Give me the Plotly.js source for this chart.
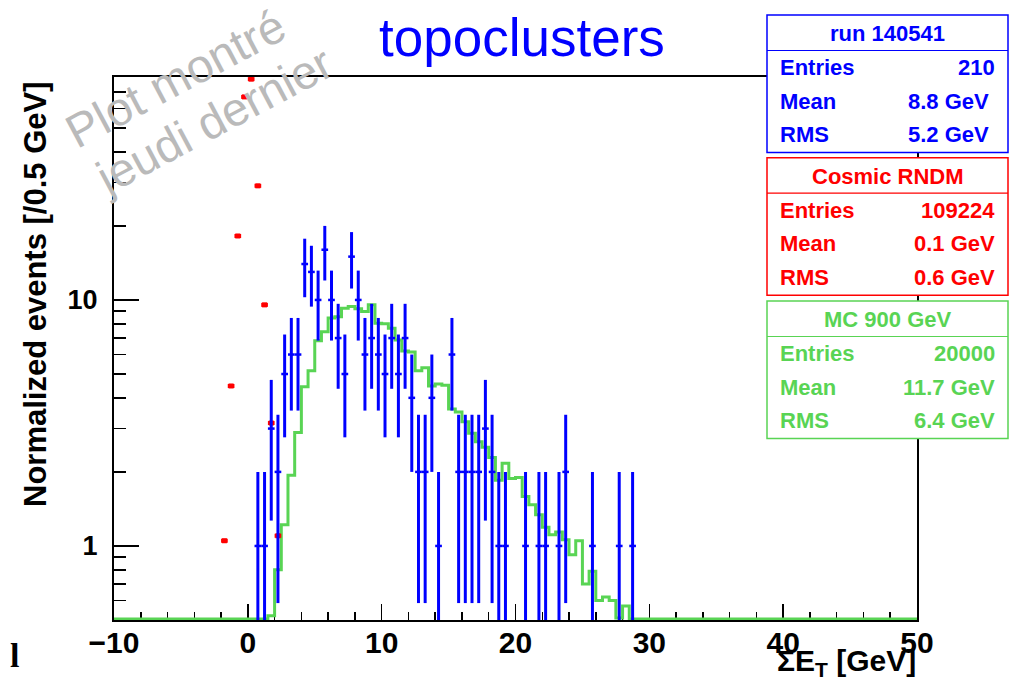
<!DOCTYPE html>
<html>
<head>
<meta charset="utf-8">
<script src="https://cdn.plot.ly/plotly-3.0.1.min.js"></script>
<style>html,body{margin:0;padding:0;background:#fff;}#chart{width:1012px;height:682px;}</style>
</head>
<body>
<div id="chart"></div>
<script>
// ---------------- data ----------------
// Data: run 140541 (counts per 0.5 GeV bin, bin centres in GeV)
const dataBinCenters = [0.75,1.25,1.75,2.25,2.75,3.25,3.75,4.25,4.75,5.25,5.75,6.25,6.75,7.25,7.75,8.25,8.75,9.25,9.75,10.25,10.75,11.25,11.75,12.25,12.75,13.25,13.75,14.25,15.25,15.75,16.25,16.75,17.25,17.75,18.25,18.75,19.25,20.75,21.75,22.25,23.25,23.75,25.75,27.75,28.75];
const dataCounts     = [1,1,3,2,5,6,6,14,13,10,16,10,7,5,15,10,6,7,6,5,7,5,7,4,2,2,4,1,6,2,2,2,2,3,2,1,1,1,1,1,1,2,1,1,1];

// Cosmic RNDM (normalized)
const cosmicBinCenters = [-1.75,-1.25,-0.75,-0.25,0.25,0.75,1.25,1.75,2.25];
const cosmicValues     = [1.05,4.47,18.2,66.9,79,29.1,9.55,3.16,1.1];

// MC 900 GeV (normalized), bins of 0.5 GeV starting at lower edge mcFirstEdge
const mcFirstEdge = 1.5;
const mcValues = [0.52,0.80,1.22,1.94,2.89,4.44,5.16,6.83,7.43,8.45,
                  8.55,9.25,9.4,9.2,8.97,9.55,8.05,8.0,7.67,6.87,
                  6.2,6.15,5.16,5.3,4.47,4.55,4.5,3.6,3.5,3.2,
                  2.87,2.65,2.52,2.29,1.85,2.17,1.88,1.9,1.59,1.47,
                  1.34,1.19,1.11,1.14,1.06,0.92,1.05,0.70,0.79,0.60,
                  0.62,0.60,0.51,0.57];
const binWidth = 0.5;
const histMin = -10, histMax = 50;

// Tick labels
const xTickVals = [-10,0,10,20,30,40,50];
const yTickVals = [1,10];
const yTickText = ['1','10'];
const yMinorTickVals = [0.6,0.7,0.8,0.9,2,3,4,5,6,7,8,9,20,30,40,50,60,70,80];

// Stat boxes
const statTitles = ['run 140541','Cosmic RNDM','MC 900 GeV'];
const statLabels = ['Entries','Mean','RMS'];
const statValuesRun = ['210','8.8 GeV','5.2 GeV'];
const statValuesCosmic = ['109224','0.1 GeV','0.6 GeV'];
const statValuesMC = ['20000','11.7 GeV','6.4 GeV'];

// ---------------- styling ----------------
const BLUE = '#0000ff', RED = '#ff0000', GREEN = '#59d454';
const FONT = 'Liberation Sans, Arial, sans-serif';
const PL = 114, PR = 917, PT = 77, PB = 620; // plot area in px
const W = 1012, H = 682;
const fx = x => (x - PL) / (PR - PL);
const fy = y => (PB - y) / (PB - PT);

// MC step histogram over full range
const nBins = Math.round((histMax - histMin) / binWidth);
const floorVal = 0.505;
const mcX = [], mcY = [];
for (let k = 0; k <= nBins; k++) {
  const lo = histMin + k * binWidth;
  const idx = Math.round((lo - mcFirstEdge) / binWidth);
  let v = (idx >= 0 && idx < mcValues.length) ? mcValues[idx] : 0;
  if (k === nBins) v = mcY[mcY.length - 1];
  mcX.push(lo);
  mcY.push(v > floorVal ? v : floorVal);
}

const traces = [
  {
    x: mcX, y: mcY, type: 'scatter', mode: 'lines',
    line: {shape: 'hv', color: GREEN, width: 3},
    hoverinfo: 'skip'
  },
  {
    x: cosmicBinCenters, y: cosmicValues, type: 'scatter', mode: 'markers',
    marker: {symbol: 'square', size: 5, color: RED},
    error_x: {type: 'constant', value: binWidth / 2, thickness: 4, width: 0, color: RED}
  },
  {
    x: dataBinCenters, y: dataCounts, type: 'scatter', mode: 'markers',
    marker: {size: 2, color: BLUE},
    error_x: {type: 'constant', value: binWidth / 2, thickness: 2.5, width: 0, color: BLUE},
    error_y: {type: 'data', array: dataCounts.map(Math.sqrt), thickness: 3, width: 0, color: BLUE}
  }
];

// Stat boxes (shapes + annotations)
const boxTops = [15, 157.7, 301];
const boxColors = [BLUE, RED, GREEN];
const boxValues = [statValuesRun, statValuesCosmic, statValuesMC];
const boxLeft = 767, boxRight = 1008;
const shapes = [], annotations = [];
boxTops.forEach((top, i) => {
  const c = boxColors[i];
  shapes.push({type: 'rect', xref: 'paper', yref: 'paper', layer: 'above',
    x0: fx(boxLeft), x1: fx(boxRight), y0: fy(top), y1: fy(top + 137.5),
    line: {color: c, width: 1.5}, fillcolor: '#ffffff'});
  shapes.push({type: 'line', xref: 'paper', yref: 'paper', layer: 'above',
    x0: fx(boxLeft), x1: fx(boxRight), y0: fy(top + 35.5), y1: fy(top + 35.5),
    line: {color: c, width: 1.2}});
  annotations.push({xref: 'paper', yref: 'paper', x: fx((boxLeft + boxRight) / 2), y: fy(top + 18.5),
    xanchor: 'center', yanchor: 'middle', showarrow: false, text: statTitles[i],
    font: {family: FONT, size: 22, color: c, weight: 'bold'}});
  statLabels.forEach((lab, j) => {
    const yy = top + 52.5 + j * 33.7;
    annotations.push({xref: 'paper', yref: 'paper', x: fx(778), y: fy(yy),
      xanchor: 'left', yanchor: 'middle', showarrow: false, text: lab,
      font: {family: FONT, size: 22, color: c, weight: 'bold'}});
    annotations.push({xref: 'paper', yref: 'paper', x: fx(i === 0 && j > 0 ? 991 : 997), y: fy(yy),
      xanchor: 'right', yanchor: 'middle', showarrow: false, text: boxValues[i][j],
      font: {family: FONT, size: 22, color: c, weight: 'bold'}});
  });
});

// Axis titles as annotations
annotations.push({xref: 'paper', yref: 'paper', x: fx(35), y: fy(294),
  xanchor: 'center', yanchor: 'middle', showarrow: false, textangle: -90,
  text: 'Normalized events [/0.5 GeV]',
  font: {family: FONT, size: 31, color: '#000', weight: 'bold'}});
annotations.push({xref: 'paper', yref: 'paper', x: fx(918), y: fy(662),
  xanchor: 'right', yanchor: 'middle', showarrow: false,
  text: 'ΣE<sub>T</sub> [GeV]',
  font: {family: FONT, size: 30, color: '#000', weight: 'bold'}});
// Watermark
annotations.push({xref: 'paper', yref: 'paper', x: fx(175), y: fy(78),
  xanchor: 'center', yanchor: 'middle', showarrow: false, textangle: -28,
  text: 'Plot montré', font: {family: FONT, size: 47, color: '#bababa'}});
annotations.push({xref: 'paper', yref: 'paper', x: fx(213), y: fy(120),
  xanchor: 'center', yanchor: 'middle', showarrow: false, textangle: -28,
  text: 'jeudi dernier', font: {family: FONT, size: 47, color: '#bababa'}});
// stray glyph at bottom-left
annotations.push({xref: 'paper', yref: 'paper', x: fx(14), y: fy(655),
  xanchor: 'center', yanchor: 'middle', showarrow: false,
  text: 'l', font: {family: 'Liberation Serif, serif', size: 34, color: '#000', weight: 'bold'}});

const layout = {
  width: W, height: H,
  margin: {l: PL, r: W - PR, t: PT, b: H - PB, pad: 0},
  paper_bgcolor: '#ffffff', plot_bgcolor: '#ffffff',
  showlegend: false,
  title: {text: 'topoclusters', x: 522 / W, xanchor: 'center', y: 1 - 37 / H, yanchor: 'middle',
    font: {family: FONT, size: 53, color: BLUE}},
  xaxis: {
    range: [histMin, histMax], tickmode: 'array', tickvals: xTickVals,
    ticks: 'inside', ticklen: 16, tickwidth: 1.5, tickcolor: '#000',
    minor: {ticks: 'inside', ticklen: 8, tickwidth: 1.5, tickcolor: '#000', dtick: 2, tick0: 0},
    showline: true, linecolor: '#000', linewidth: 2, mirror: true,
    showgrid: false, zeroline: false, layer: 'below traces',
    ticklabelstandoff: -5,
    tickfont: {family: FONT, size: 30, color: '#000', weight: 'bold'}
  },
  yaxis: {
    type: 'log', range: [Math.log10(0.5), Math.log10(80.6)],
    tickmode: 'array', tickvals: yTickVals, ticktext: yTickText,
    ticks: 'inside', ticklen: 25, tickwidth: 1.5, tickcolor: '#000',
    minor: {ticks: 'inside', ticklen: 12, tickwidth: 1.5, tickcolor: '#000', tickmode: 'array', tickvals: yMinorTickVals},
    showline: true, linecolor: '#000', linewidth: 2, mirror: true,
    showgrid: false, zeroline: false, layer: 'below traces',
    ticklabelstandoff: 9,
    tickfont: {family: FONT, size: 27, color: '#000', weight: 'bold'}
  },
  shapes: shapes,
  annotations: annotations
};

Plotly.newPlot('chart', traces, layout, {staticPlot: true, displayModeBar: false});
</script>
</body>
</html>
